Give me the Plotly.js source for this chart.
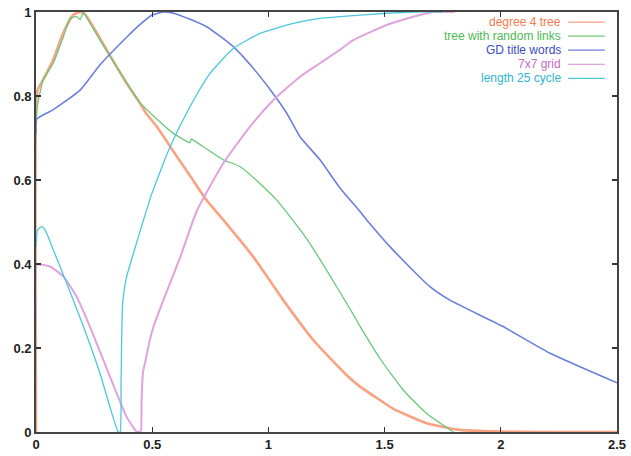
<!DOCTYPE html>
<html>
<head>
<meta charset="utf-8">
<script src="https://cdn.plot.ly/plotly-3.0.1.min.js"></script>
<style>html,body{margin:0;padding:0;background:#fff;}#chart{width:631px;height:456px;}</style>
</head>
<body>
<div id="chart"></div>
<script>
// ---- data ----
const seriesNames = ["degree 4 tree", "tree with random links", "GD title words", "7x7 grid", "length 25 cycle"];

const degree4X = [0, 0.002, 0.01, 0.03, 0.074, 0.117, 0.16, 0.19, 0.21, 0.246, 0.304, 0.39, 0.447, 0.476, 0.519, 0.577, 0.663, 0.734, 0.806, 0.935, 1.064, 1.193, 1.337, 1.394, 1.48, 1.538, 1.681, 1.824, 2.0, 2.2, 2.5];
const degree4Y = [0, 0.80, 0.818, 0.838, 0.886, 0.95, 0.993, 1.0, 0.995, 0.965, 0.91, 0.83, 0.783, 0.757, 0.728, 0.68, 0.61, 0.552, 0.505, 0.417, 0.314, 0.219, 0.135, 0.108, 0.076, 0.055, 0.021, 0.005, 0.001, 0, 0];

const randTreeX = [0, 0.005, 0.01, 0.02, 0.03, 0.074, 0.117, 0.146, 0.175, 0.19, 0.203, 0.22, 0.275, 0.347, 0.447, 0.534, 0.591, 0.663, 0.668, 0.677, 0.806, 0.878, 0.993, 1.036, 1.093, 1.165, 1.251, 1.365, 1.394, 1.48, 1.58, 1.681, 1.796];
const randTreeY = [0.74, 0.77, 0.79, 0.814, 0.838, 0.878, 0.94, 0.985, 0.989, 0.982, 0.998, 0.985, 0.933, 0.87, 0.785, 0.738, 0.711, 0.689, 0.697, 0.695, 0.648, 0.632, 0.576, 0.552, 0.513, 0.46, 0.385, 0.28, 0.252, 0.175, 0.1, 0.044, 0];

const gdX = [0, 0.003, 0.073, 0.19, 0.275, 0.39, 0.447, 0.5, 0.55, 0.6, 0.734, 0.85, 0.935, 1.02, 1.079, 1.136, 1.222, 1.308, 1.394, 1.423, 1.537, 1.695, 1.781, 2.01, 2.21, 2.5];
const gdY = [0.71, 0.745, 0.767, 0.814, 0.874, 0.94, 0.97, 0.993, 1.0, 0.996, 0.965, 0.917, 0.866, 0.806, 0.759, 0.703, 0.648, 0.581, 0.525, 0.505, 0.433, 0.346, 0.314, 0.251, 0.188, 0.117];

const gridX = [0, 0.004, 0.06, 0.118, 0.175, 0.232, 0.29, 0.347, 0.39, 0.433, 0.45, 0.454, 0.46, 0.475, 0.49, 0.505, 0.548, 0.62, 0.691, 0.806, 0.921, 1.021, 1.136, 1.222, 1.308, 1.365, 1.509, 1.6, 1.71, 1.8];
const gridY = [0.27, 0.398, 0.394, 0.37, 0.322, 0.251, 0.171, 0.092, 0.036, 0.001, 0, 0.07, 0.14, 0.18, 0.219, 0.25, 0.314, 0.415, 0.525, 0.64, 0.727, 0.79, 0.846, 0.878, 0.91, 0.933, 0.969, 0.985, 1.0, 1.0];

const cycleX = [0, 0.006, 0.014, 0.024, 0.039, 0.075, 0.132, 0.204, 0.275, 0.318, 0.354, 0.362, 0.366, 0.372, 0.38, 0.39, 0.419, 0.46, 0.5, 0.577, 0.663, 0.749, 0.849, 0.964, 1.107, 1.222, 1.308, 1.509, 1.62, 1.75];
const cycleY = [0.44, 0.48, 0.485, 0.489, 0.481, 0.433, 0.354, 0.251, 0.14, 0.06, 0, 0, 0.12, 0.3, 0.34, 0.37, 0.425, 0.5, 0.57, 0.679, 0.775, 0.854, 0.913, 0.949, 0.973, 0.985, 0.989, 0.997, 1.0, 1.0];

const xTickVals = [0, 0.5, 1, 1.5, 2, 2.5];
const xTickText = ["0", "0.5", "1", "1.5", "2", "2.5"];
const yTickVals = [0, 0.2, 0.4, 0.6, 0.8, 1];
const yTickText = ["0", "0.2", "0.4", "0.6", "0.8", "1"];

// ---- styles ----
const lineColors = ["#f9a383", "#6cc77a", "#6c7fdc", "#e0a3dc", "#4cc8dd"];
const textColors = ["#f47a52", "#4cb853", "#3b4cc0", "#c46cc0", "#2fb3d0"];
const lineWidths = [2.6, 1.3, 1.6, 2.0, 1.3];

const xs = [degree4X, randTreeX, gdX, gridX, cycleX];
const ys = [degree4Y, randTreeY, gdY, gridY, cycleY];

const traces = seriesNames.map((n, i) => ({
  type: "scatter", mode: "lines", name: n,
  x: xs[i], y: ys[i],
  line: {color: lineColors[i], width: lineWidths[i], shape: "spline", smoothing: 0.5},
  showlegend: false, hoverinfo: "skip"
}));

// legend drawn as annotations (text right-aligned, sample line on the right)
const legTop = 0.976, legStep = 0.0335;
const annotations = seriesNames.map((n, i) => ({
  xref: "paper", yref: "paper", x: 0.905, y: legTop - i * legStep,
  xanchor: "right", yanchor: "middle", showarrow: false, borderpad: 0,
  text: n, font: {family: "Liberation Sans, Arial, sans-serif", size: 12, color: textColors[i]}
}));
const shapes = seriesNames.map((n, i) => ({
  type: "line", xref: "paper", yref: "paper",
  x0: 0.9157, x1: 0.979, y0: legTop - i * legStep, y1: legTop - i * legStep,
  line: {color: lineColors[i], width: 1.3}
}));

const axisFont = {family: "Liberation Sans, Arial, sans-serif", size: 13, color: "#222", weight: "bold"};

const layout = {
  width: 631, height: 456,
  margin: {l: 36, r: 14, t: 12, b: 24, pad: 0},
  paper_bgcolor: "#ffffff", plot_bgcolor: "#ffffff",
  xaxis: {
    range: [0, 2.5], tickvals: xTickVals, ticktext: xTickText,
    ticks: "inside", ticklen: 5, tickwidth: 1.3, tickcolor: "#333",
    showline: true, linecolor: "#444", linewidth: 1.8, mirror: "allticks",
    showgrid: false, zeroline: false, tickfont: axisFont
  },
  yaxis: {
    range: [0, 1], tickvals: yTickVals, ticktext: yTickText,
    ticks: "inside", ticklen: 5, tickwidth: 1.3, tickcolor: "#333",
    showline: true, linecolor: "#444", linewidth: 1.8, mirror: "allticks",
    showgrid: false, zeroline: false, tickfont: axisFont
  },
  annotations: annotations,
  shapes: shapes,
  showlegend: false
};

Plotly.newPlot("chart", traces, layout, {displayModeBar: false, staticPlot: true});
</script>
</body>
</html>
